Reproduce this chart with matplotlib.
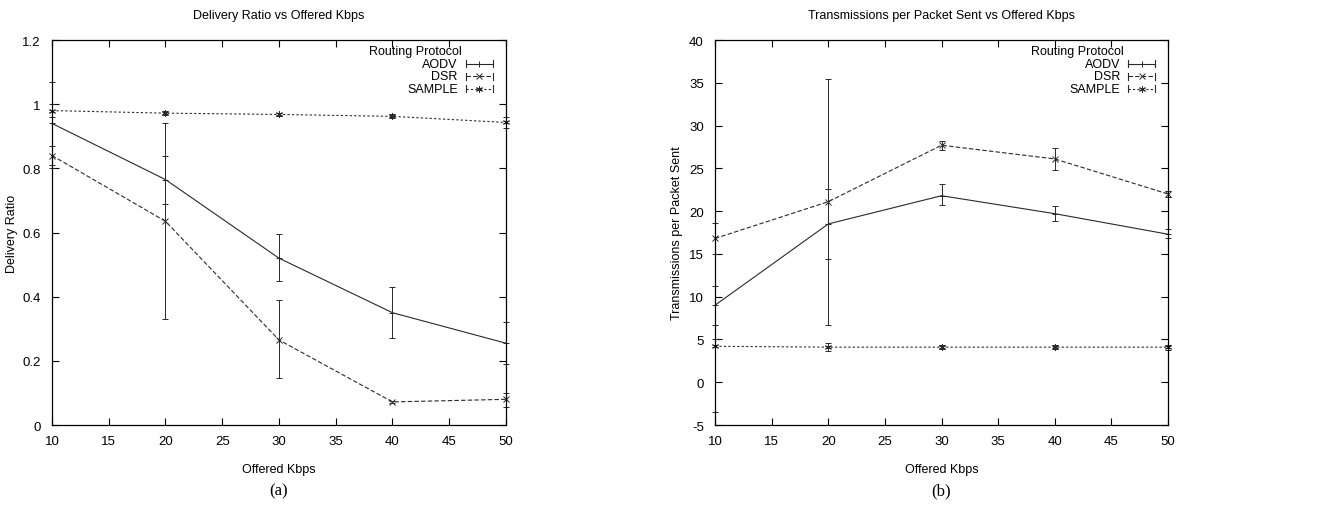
import matplotlib
matplotlib.use('Agg')
import matplotlib.pyplot as plt
import numpy as np

plt.rcParams.update({
    'font.family': ['Liberation Sans', 'DejaVu Sans'],
    'font.size': 9,
    'axes.unicode_minus': False,
    'xtick.direction': 'in',
    'ytick.direction': 'in',
    'xtick.top': True,
    'ytick.right': True,
})

kbps = [10, 20, 30, 40, 50]

# (a) delivery ratio
dr_aodv = [0.94, 0.765, 0.52, 0.35, 0.255]
dr_aodv_lo = [0.81, 0.69, 0.45, 0.27, 0.19]
dr_aodv_hi = [1.07, 0.84, 0.595, 0.43, 0.32]
dr_dsr = [0.84, 0.635, 0.265, 0.072, 0.08]
dr_dsr_lo = [0.80, 0.33, 0.145, 0.068, 0.055]
dr_dsr_hi = [0.87, 0.94, 0.39, 0.076, 0.10]
dr_sample = [0.98, 0.972, 0.968, 0.962, 0.943]
dr_sample_lo = [0.96, 0.965, 0.962, 0.956, 0.925]
dr_sample_hi = [1.00, 0.979, 0.974, 0.968, 0.96]

# (b) transmissions per packet sent
tx_aodv = [9.0, 18.5, 21.8, 19.7, 17.3]
tx_aodv_lo = [6.7, 14.4, 20.7, 18.9, 16.8]
tx_aodv_hi = [11.3, 22.6, 23.2, 20.6, 17.9]
tx_dsr = [16.8, 21.1, 27.7, 26.1, 22.0]
tx_dsr_lo = [15.0, 6.7, 27.2, 24.8, 21.6]
tx_dsr_hi = [18.6, 35.5, 28.2, 27.4, 22.4]
tx_sample = [4.2, 4.1, 4.1, 4.1, 4.1]
tx_sample_lo = [-3.5, 3.7, 3.9, 3.9, 3.8]
tx_sample_hi = [5.0, 4.6, 4.3, 4.3, 4.4]

names = ['AODV', 'DSR', 'SAMPLE']
styles = [dict(ls='-', marker='+', ms=5),
          dict(ls=(0, (4, 2)), marker='x', ms=4),
          dict(ls=(0, (2, 2)), marker=(6, 2, 0), ms=5)]
col = '#2a2a2a'


def panel(ax, series, title, ylabel, ylim, yticks, tag, ylab_x):
    for name, (y, lo, hi), st in zip(names, series, styles):
        y = np.array(y)
        err = [y - np.array(lo), np.array(hi) - y]
        ax.errorbar(kbps, y, yerr=err, color=col, lw=0.8, elinewidth=0.7,
                    capsize=2, capthick=0.7, mew=0.7, clip_on=False,
                    ls=st['ls'], marker=st['marker'], ms=st['ms'])
    ax.set_xlim(10, 50)
    ax.set_ylim(*ylim)
    ax.set_xticks(range(10, 51, 5))
    ax.set_yticks(yticks)
    ax.tick_params(length=5, width=0.8, labelsize=9.5)
    ax.tick_params(axis='x', pad=7)
    ax.tick_params(axis='y', pad=8)
    for s in ax.spines.values():
        s.set_linewidth(0.9)
    ax.set_title(title, fontsize=9, pad=16)
    ax.set_xlabel('Offered Kbps', fontsize=9, labelpad=12)
    ax.set_ylabel(ylabel, fontsize=9)
    ax.yaxis.set_label_coords(ylab_x, 0.5)
    ax.text(0.5, -0.171, tag, transform=ax.transAxes, ha='center', va='center',
            fontsize=12, family='Liberation Serif')
    # legend in gnuplot style
    ax.text(0.903, 0.971, 'Routing Protocol', transform=ax.transAxes,
            ha='right', va='center', fontsize=9)
    for i, (name, st) in enumerate(zip(names, styles)):
        yy = 0.938 - i * 0.032
        ax.text(0.894, yy, name, transform=ax.transAxes, ha='right', va='center', fontsize=9)
        ax.plot([0.912, 0.971], [yy, yy], transform=ax.transAxes, color=col, lw=0.8, ls=st['ls'])
        ax.plot([0.9415], [yy], transform=ax.transAxes, color=col, marker=st['marker'],
                ms=st['ms'], mew=0.7, ls='none')
        for xe in (0.912, 0.971):
            ax.plot([xe, xe], [yy - 0.009, yy + 0.009], transform=ax.transAxes, color=col, lw=0.8)


fig = plt.figure(figsize=(13.29, 5.10), dpi=100)
ax1 = fig.add_axes([0.0391, 0.1647, 0.3416, 0.7549])
ax2 = fig.add_axes([0.538, 0.1647, 0.3409, 0.7549])

panel(ax1, [(dr_aodv, dr_aodv_lo, dr_aodv_hi), (dr_dsr, dr_dsr_lo, dr_dsr_hi),
            (dr_sample, dr_sample_lo, dr_sample_hi)],
      'Delivery Ratio vs Offered Kbps', 'Delivery Ratio', (0, 1.2),
      [0, 0.2, 0.4, 0.6, 0.8, 1, 1.2], '(a)', -0.075)
ax1.set_yticklabels(['0', '0.2', '0.4', '0.6', '0.8', '1', '1.2'])
panel(ax2, [(tx_aodv, tx_aodv_lo, tx_aodv_hi), (tx_dsr, tx_dsr_lo, tx_dsr_hi),
            (tx_sample, tx_sample_lo, tx_sample_hi)],
      'Transmissions per Packet Sent vs Offered Kbps', 'Transmissions per Packet Sent',
      (-5, 40), range(-5, 41, 5), '(b)', -0.07)

fig.savefig('out.png', dpi=100)
